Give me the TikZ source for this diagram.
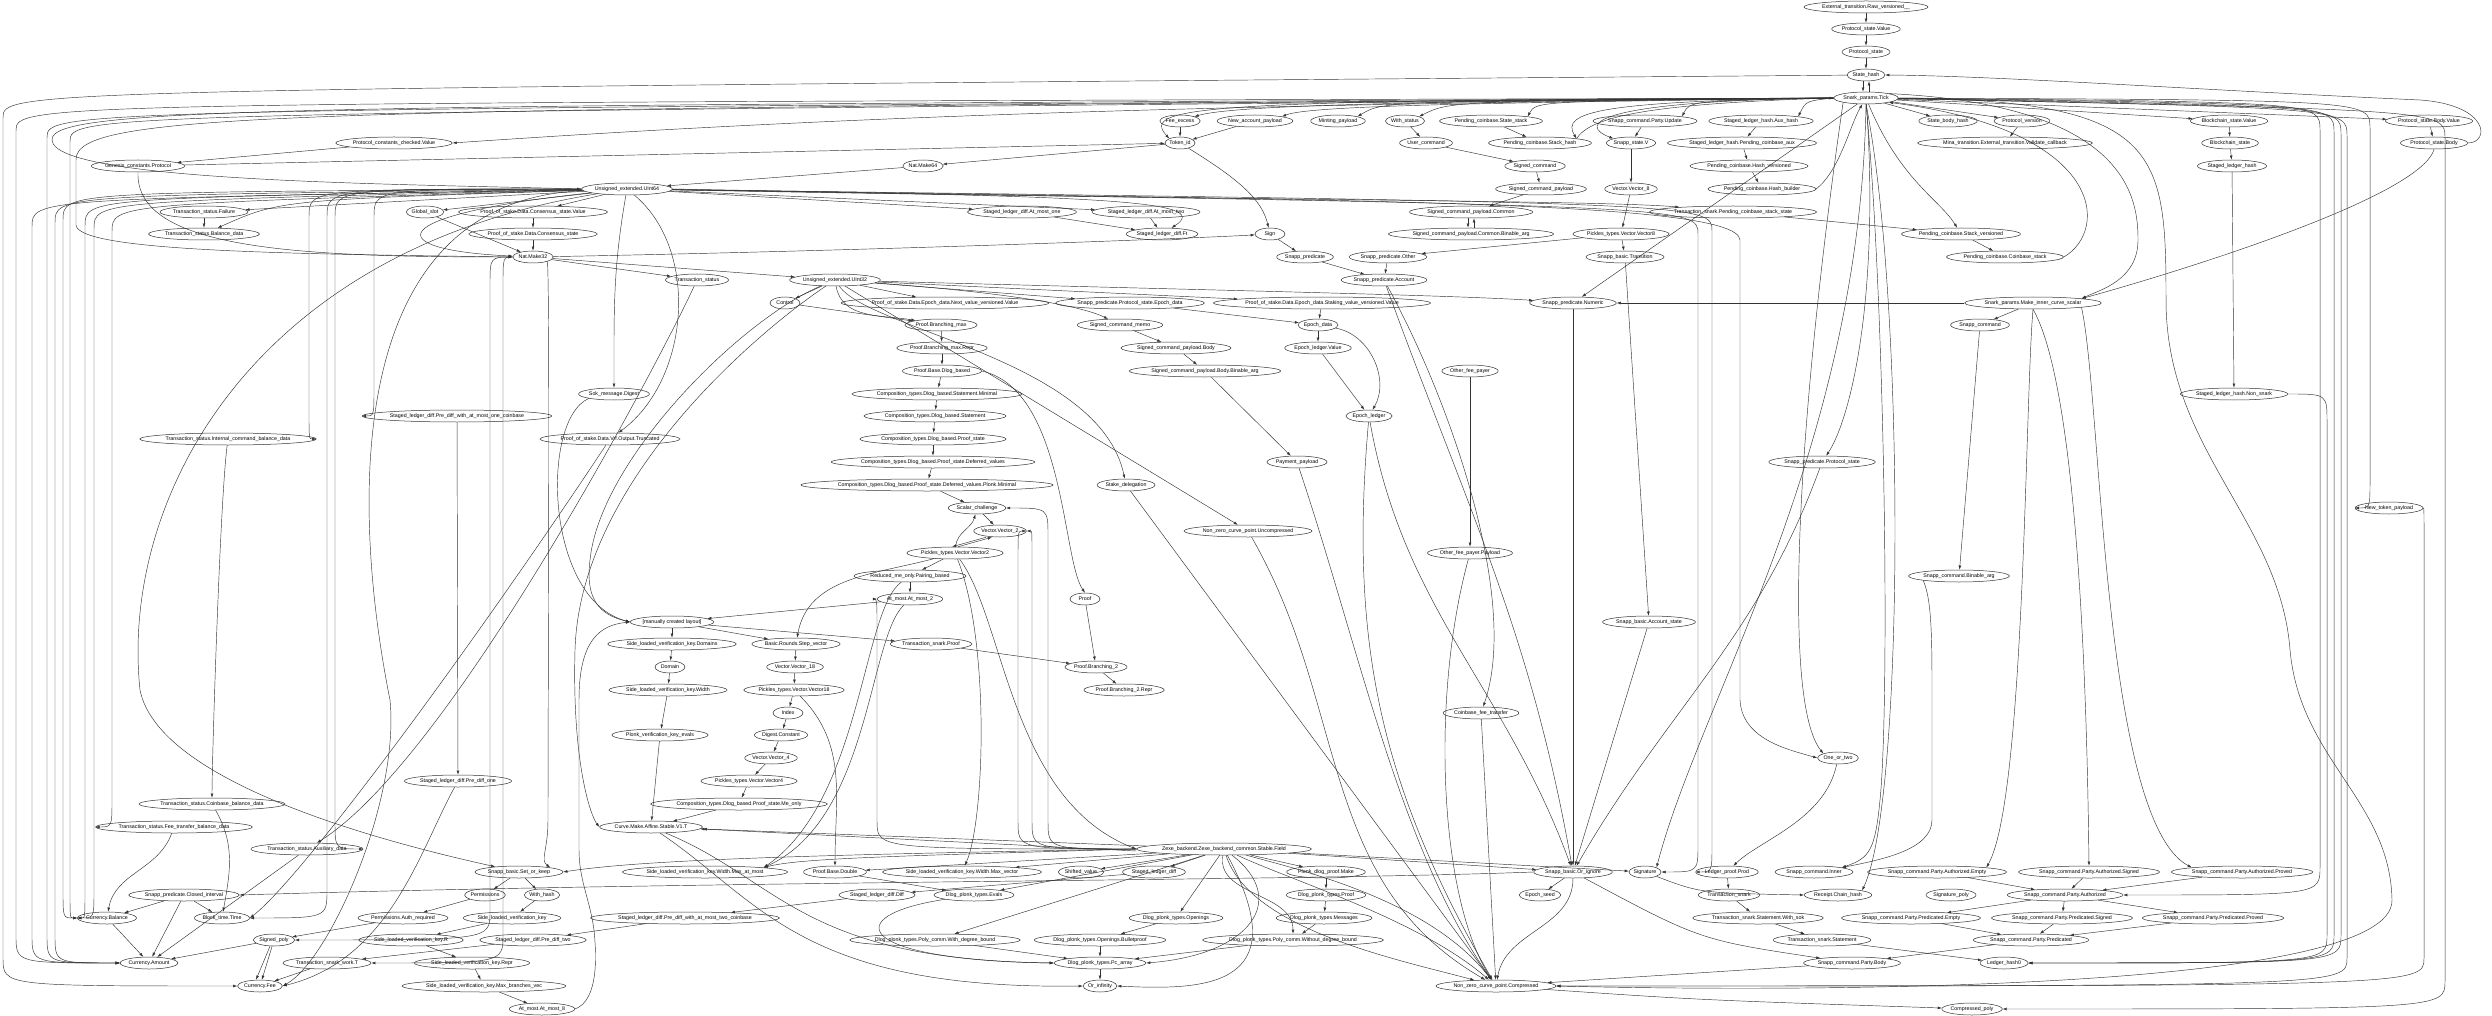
\documentclass[tikz,border=0pt]{standalone}
\usepackage{fontspec}
\setmainfont{Liberation Sans}
\usetikzlibrary{shapes.geometric, arrows.meta, calc}
\tikzset{
  modnode/.style={ellipse, draw=black!80, line width=0.5pt, inner xsep=0pt, inner ysep=0pt,
                  minimum height=12pt, minimum width=30pt, font=\fontsize{5.3}{6}\selectfont},
  dep/.style={-{Latex[length=4.2pt,width=2.8pt]}, line width=0.45pt, draw=black!80},
}
% edge that runs to a vertical lane at x=#4, then down (or up) to its target
\newcommand{\lanedep}[4][0]{%
  \draw[dep] let \p1=(#2), \p2=(#3), \n1={(\y2>\y1)?1:-1} in
    (#2) .. controls (#4pt,{\y1-(#1pt)}) .. (#4pt,{\y1-(#1pt)+(\n1)*28pt})
    -- (#4pt,{\y2-(\n1)*28pt}) .. controls (#4pt,\y2) .. (#3);}

\begin{document}
\begin{tikzpicture}[x=1pt, y=-1pt]

\fill[white] (0,0) rectangle (2492,1016);
\useasboundingbox (0,0) rectangle (2492,1016);

% ── modules, row by row ───────────────────────────────────────────────────────
\node[modnode] (ext)   at (1866,7)   {External\_transition.Raw\_versioned\_\_};
\node[modnode] (psv)   at (1866,29)  {Protocol\_state.Value};
\node[modnode] (ps)    at (1866,52)  {Protocol\_state};
\node[modnode] (sh)    at (1866,75)  {State\_hash};
\node[modnode] (tick)  at (1866,98)  {Snark\_params.Tick};

\node[modnode] (fee)   at (1180,121) {Fee\_excess};
\node[modnode] (nap)   at (1255,121) {New\_account\_payload};
\node[modnode] (mint)  at (1338,121) {Minting\_payload};
\node[modnode] (wst)   at (1405,121) {With\_status};
\node[modnode] (pcss)  at (1491,121) {Pending\_coinbase.State\_stack};
\node[modnode] (scpu)  at (1645,121) {Snapp\_command.Party.Update};
\node[modnode] (slhah) at (1761,121) {Staged\_ledger\_hash.Aux\_hash};
\node[modnode] (sbh)   at (1948,121) {State\_body\_hash};
\node[modnode] (pver)  at (2022,121) {Protocol\_version};
\node[modnode] (bsv)   at (2229,121) {Blockchain\_state.Value};
\node[modnode] (psbv)  at (2429,121) {Protocol\_state.Body.Value};

\node[modnode] (pccv)  at (394,143)  {Protocol\_constants\_checked.Value};
\node[modnode] (tok)   at (1180,143) {Token\_id};
\node[modnode] (ucmd)  at (1426,143) {User\_command};
\node[modnode] (pcsh)  at (1540,143) {Pending\_coinbase.Stack\_hash};
\node[modnode] (ssv)   at (1631,143) {Snapp\_state.V};
\node[modnode] (slhpca) at (1742,143) {Staged\_ledger\_hash.Pending\_coinbase\_aux};
\node[modnode] (mtv)   at (2005,143) {Mina\_transition.External\_transition.Validate\_callback};
\node[modnode] (bs)    at (2230,143) {Blockchain\_state};
\node[modnode] (psb)   at (2434,143) {Protocol\_state.Body};

\node[modnode] (gcp)   at (138,166)  {Genesis\_constants.Protocol};
\node[modnode] (nm64)  at (923,166)  {Nat.Make64};
\node[modnode] (scmd)  at (1535,166) {Signed\_command};
\node[modnode] (pchv)  at (1749,166) {Pending\_coinbase.Hash\_versioned};
\node[modnode] (slh)   at (2232,166) {Staged\_ledger\_hash};

\node[modnode] (u64)   at (627,189)  {Unsigned\_extended.UInt64};
\node[modnode] (scp)   at (1541,189) {Signed\_command\_payload};
\node[modnode] (v8)    at (1631,189) {Vector.Vector\_8};
\node[modnode] (pchb)  at (1762,189) {Pending\_coinbase.Hash\_builder};

\node[modnode] (tsf)   at (204,212)  {Transaction\_status.Failure};
\node[modnode] (gslot) at (425,212)  {Global\_slot};
\node[modnode] (pcsv)  at (533,212)  {Proof\_of\_stake.Data.Consensus\_state.Value};
\node[modnode] (amo1)  at (1022,212) {Staged\_ledger\_diff.At\_most\_one};
\node[modnode] (amo2)  at (1146,212) {Staged\_ledger\_diff.At\_most\_two};
\node[modnode] (scpc)  at (1471,212) {Signed\_command\_payload.Common};
\node[modnode] (tspcss) at (1733,212) {Transaction\_snark.Pending\_coinbase\_stack\_state};

\node[modnode] (tsbd)  at (204,234)  {Transaction\_status.Balance\_data};
\node[modnode] (pcs)   at (533,234)  {Proof\_of\_stake.Data.Consensus\_state};
\node[modnode] (sldft) at (1162,234) {Staged\_ledger\_diff.Ft};
\node[modnode] (sign)  at (1270,234) {Sign};
\node[modnode] (scpcb) at (1471,234) {Signed\_command\_payload.Common.Binable\_arg};
\node[modnode] (pv8)   at (1621,234) {Pickles\_types.Vector.Vector8};
\node[modnode] (pcsv2) at (1961,234) {Pending\_coinbase.Stack\_versioned};

\node[modnode] (nm32)  at (533,257)  {Nat.Make32};
\node[modnode] (spred) at (1305,257) {Snapp\_predicate};
\node[modnode] (spo)   at (1388,257) {Snapp\_predicate.Other};
\node[modnode] (sbt)   at (1625,257) {Snapp\_basic.Transition};
\node[modnode] (pccs)  at (2005,257) {Pending\_coinbase.Coinbase\_stack};

\node[modnode] (tst)   at (697,280)  {Transaction\_status};
\node[modnode] (u32)   at (835,280)  {Unsigned\_extended.UInt32};
\node[modnode] (spa)   at (1384,280) {Snapp\_predicate.Account};

\node[modnode] (ctrl)  at (785,303)  {Control};
\node[modnode] (nextv) at (945,303)  {Proof\_of\_stake.Data.Epoch\_data.Next\_value\_versioned.Value};
\node[modnode] (sppsed) at (1130,303) {Snapp\_predicate.Protocol\_state.Epoch\_data};
\node[modnode] (stakv) at (1322,303) {Proof\_of\_stake.Data.Epoch\_data.Staking\_value\_versioned.Value};
\node[modnode] (spn)   at (1573,303) {Snapp\_predicate.Numeric};
\node[modnode] (snmics) at (2033,303) {Snark\_params.Make\_inner\_curve\_scalar};

\node[modnode] (pbm)   at (941,325)  {Proof.Branching\_max};
\node[modnode] (scm)   at (1120,325) {Signed\_command\_memo};
\node[modnode] (epd)   at (1318,325) {Epoch\_data};
\node[modnode] (scmdn) at (1980,325) {Snapp\_command};

\node[modnode] (pbmr)  at (942,348)  {Proof.Branching\_max.Repr};
\node[modnode] (scpb)  at (1176,348) {Signed\_command\_payload.Body};
\node[modnode] (elv)   at (1318,348) {Epoch\_ledger.Value};

\node[modnode] (pbdb)  at (942,371)  {Proof.Base.Dlog\_based};
\node[modnode] (scpbb) at (1205,371) {Signed\_command\_payload.Body.Binable\_arg};
\node[modnode] (ofp)   at (1470,371) {Other\_fee\_payer};

\node[modnode] (sokd)  at (614,394)  {Sok\_message.Digest};
\node[modnode] (ctsm)  at (937,394)  {Composition\_types.Dlog\_based.Statement.Minimal};
\node[modnode] (slhns) at (2234,394) {Staged\_ledger\_hash.Non\_snark};

\node[modnode] (slpd1) at (457,416)  {Staged\_ledger\_diff.Pre\_diff\_with\_at\_most\_one\_coinbase};
\node[modnode] (cts)   at (935,416)  {Composition\_types.Dlog\_based.Statement};
\node[modnode] (el)    at (1369,416) {Epoch\_ledger};

\node[modnode] (tsicbd) at (228,439) {Transaction\_status.Internal\_command\_balance\_data};
\node[modnode] (vrf)   at (610,439)  {Proof\_of\_stake.Data.Vrf.Output.Truncated};
\node[modnode] (ctps)  at (933,439)  {Composition\_types.Dlog\_based.Proof\_state};

\node[modnode] (ctdv)  at (933,462)  {Composition\_types.Dlog\_based.Proof\_state.Deferred\_values};
\node[modnode] (pay)   at (1297,462) {Payment\_payload};
\node[modnode] (spps)  at (1822,462) {Snapp\_predicate.Protocol\_state};

\node[modnode] (ctpm)  at (927,485)  {Composition\_types.Dlog\_based.Proof\_state.Deferred\_values.Plonk.Minimal};
\node[modnode] (sdel)  at (1126,485) {Stake\_delegation};

\node[modnode] (sch)   at (977,508)  {Scalar\_challenge};
\node[modnode] (ntp)   at (2389,508) {New\_token\_payload};

\node[modnode] (v2)    at (1000,531) {Vector.Vector\_2};
\node[modnode] (nzcu)  at (1248,531) {Non\_zero\_curve\_point.Uncompressed};

\node[modnode] (pv2)   at (955,553)  {Pickles\_types.Vector.Vector2};
\node[modnode] (ofpp)  at (1470,553) {Other\_fee\_payer.Payload};

\node[modnode] (rmo)   at (910,576)  {Reduced\_me\_only.Pairing\_based};
\node[modnode] (scba)  at (1959,576) {Snapp\_command.Binable\_arg};

\node[modnode] (am2)   at (910,599)  {At\_most.At\_most\_2};
\node[modnode] (proof) at (1085,599) {Proof};

\node[modnode] (mcl)   at (672,622)  {[manually created layout]};
\node[modnode] (sbas)  at (1649,622) {Snapp\_basic.Account\_state};

\node[modnode] (slvkd) at (672,644)  {Side\_loaded\_verification\_key.Domains};
\node[modnode] (brsv)  at (796,644)  {Basic.Rounds.Step\_vector};
\node[modnode] (tsp)   at (931,644)  {Transaction\_snark.Proof};

\node[modnode] (dom)   at (670,667)  {Domain};
\node[modnode] (v18)   at (795,667)  {Vector.Vector\_18};
\node[modnode] (pb2)   at (1096,667) {Proof.Branching\_2};

\node[modnode] (slvkw) at (668,690)  {Side\_loaded\_verification\_key.Width};
\node[modnode] (pv18)  at (794,690)  {Pickles\_types.Vector.Vector18};
\node[modnode] (pb2r)  at (1124,690) {Proof.Branching\_2.Repr};

\node[modnode] (idx)   at (788,713)  {Index};
\node[modnode] (cft)   at (1481,713) {Coinbase\_fee\_transfer};

\node[modnode] (pvke)  at (660,735)  {Plonk\_verification\_key\_evals};
\node[modnode] (dc)    at (781,735)  {Digest.Constant};

\node[modnode] (v4)    at (771,758)  {Vector.Vector\_4};
\node[modnode] (oot)   at (1838,758) {One\_or\_two};

\node[modnode] (spd1)  at (458,781)  {Staged\_ledger\_diff.Pre\_diff\_one};
\node[modnode] (pv4)   at (749,781)  {Pickles\_types.Vector.Vector4};

\node[modnode] (tscbd) at (212,804)  {Transaction\_status.Coinbase\_balance\_data};
\node[modnode] (ctmo)  at (739,804)  {Composition\_types.Dlog\_based.Proof\_state.Me\_only};

\node[modnode] (tsftbd) at (174,827) {Transaction\_status.Fee\_transfer\_balance\_data};
\node[modnode] (cmas)  at (651,827)  {Curve.Make.Affine.Stable.V1.T};

\node[modnode] (tsad)  at (307,849)  {Transaction\_status.Auxiliary\_data};
\node[modnode] (zexe)  at (1224,849) {Zexe\_backend.Zexe\_backend\_common.Stable.Field};

\node[modnode] (sbsk)  at (519,872)  {Snapp\_basic.Set\_or\_keep};
\node[modnode] (slvkwma) at (705,872) {Side\_loaded\_verification\_key.Width.Max\_at\_most};
\node[modnode] (pbd)   at (835,872)  {Proof.Base.Double};
\node[modnode] (slvkwmv) at (962,872) {Side\_loaded\_verification\_key.Width.Max\_vector};
\node[modnode] (shv)   at (1081,872) {Shifted\_value};
\node[modnode] (sld)   at (1154,872) {Staged\_ledger\_diff};
\node[modnode] (pdpm)  at (1326,872) {Plonk\_dlog\_proof.Make};
\node[modnode] (sboi)  at (1573,872) {Snapp\_basic.Or\_ignore};
\node[modnode] (sig)   at (1645,872) {Signature};
\node[modnode] (lpp)   at (1727,872) {Ledger\_proof.Prod};
\node[modnode] (sci)   at (1814,872) {Snapp\_command.Inner};
\node[modnode] (scpae) at (1937,872) {Snapp\_command.Party.Authorized.Empty};
\node[modnode] (scpas) at (2089,872) {Snapp\_command.Party.Authorized.Signed};
\node[modnode] (scpap) at (2242,872) {Snapp\_command.Party.Authorized.Proved};

\node[modnode] (spci)  at (184,895)  {Snapp\_predicate.Closed\_interval};
\node[modnode] (perm)  at (485,895)  {Permissions};
\node[modnode] (wh)    at (542,895)  {With\_hash};
\node[modnode] (sldd)  at (877,895)  {Staged\_ledger\_diff.Diff};
\node[modnode] (dpe)   at (974,895)  {Dlog\_plonk\_types.Evals};
\node[modnode] (dpp)   at (1326,895) {Dlog\_plonk\_types.Proof};
\node[modnode] (eps)   at (1540,895) {Epoch\_seed};
\node[modnode] (tsn)   at (1729,895) {Transaction\_snark};
\node[modnode] (rch)   at (1838,895) {Receipt.Chain\_hash};
\node[modnode] (sigp)  at (1951,895) {Signature\_poly};
\node[modnode] (scpa)  at (2065,895) {Snapp\_command.Party.Authorized};

\node[modnode] (cbal)  at (107,918)  {Currency.Balance};
\node[modnode] (btt)   at (222,918)  {Block\_time.Time};
\node[modnode] (par)   at (403,918)  {Permissions.Auth\_required};
\node[modnode] (slvk)  at (512,918)  {Side\_loaded\_verification\_key};
\node[modnode] (spd2c) at (685,918)  {Staged\_ledger\_diff.Pre\_diff\_with\_at\_most\_two\_coinbase};
\node[modnode] (dpo)   at (1176,918) {Dlog\_plonk\_types.Openings};
\node[modnode] (dpm)   at (1324,918) {Dlog\_plonk\_types.Messages};
\node[modnode] (tsssw) at (1758,918) {Transaction\_snark.Statement.With\_sok};
\node[modnode] (scppe) at (1911,918) {Snapp\_command.Party.Predicated.Empty};
\node[modnode] (scpps) at (2062,918) {Snapp\_command.Party.Predicated.Signed};
\node[modnode] (scppp) at (2213,918) {Snapp\_command.Party.Predicated.Proved};

\node[modnode] (spoly) at (274,940)  {Signed\_poly};
\node[modnode] (slvkr) at (411,940)  {Side\_loaded\_verification\_key.R};
\node[modnode] (spd2)  at (533,940)  {Staged\_ledger\_diff.Pre\_diff\_two};
\node[modnode] (dppw)  at (935,940)  {Dlog\_plonk\_types.Poly\_comm.With\_degree\_bound};
\node[modnode] (dpob)  at (1100,940) {Dlog\_plonk\_types.Openings.Bulletproof};
\node[modnode] (dppwo) at (1293,940) {Dlog\_plonk\_types.Poly\_comm.Without\_degree\_bound};
\node[modnode] (tss)   at (1822,940) {Transaction\_snark.Statement};
\node[modnode] (scpp)  at (2031,940) {Snapp\_command.Party.Predicated};

\node[modnode] (camt)  at (149,963)  {Currency.Amount};
\node[modnode] (tswt)  at (327,963)  {Transaction\_snark\_work.T};
\node[modnode] (slvkrp) at (472,963) {Side\_loaded\_verification\_key.Repr};
\node[modnode] (dppa)  at (1100,963) {Dlog\_plonk\_types.Pc\_array};
\node[modnode] (scpbody) at (1852,963) {Snapp\_command.Party.Body};
\node[modnode] (lh0)   at (2004,963) {Ledger\_hash0};

\node[modnode] (cfee)  at (260,986)  {Currency.Fee};
\node[modnode] (slvkmbv) at (484,986) {Side\_loaded\_verification\_key.Max\_branches\_vec};
\node[modnode] (oinf)  at (1100,986) {Or\_infinity};
\node[modnode] (nzcc)  at (1496,986) {Non\_zero\_curve\_point.Compressed};

\node[modnode] (am8)   at (542,1009) {At\_most.At\_most\_8};
\node[modnode] (cpoly) at (1972,1009) {Compressed\_poly};

% ── top chain and Tick hub ───────────────────────────────────────────────────
\draw[dep] (ext) -- (psv);
\draw[dep] (psv) -- (ps);
\draw[dep] (ps) -- (sh);
\draw[dep] ([xshift=-3pt]sh.south) -- ([xshift=-3pt]tick.north);
\draw[dep] ([xshift=3pt]tick.north) -- ([xshift=3pt]sh.south);
\draw[dep] (psb.east) .. controls (2490,143) and (2490,105) .. (2420,100)
  .. controls (2200,90) and (2000,76) .. (sh.east);
\draw[dep] (psb.south) .. controls (2420,200) and (2150,280) .. (snmics.north east);

\foreach \t in {mint,wst,pcss,scpu,slhah}
  \draw[dep] let \p1=(\t) in (tick.west) .. controls ({\x1+45pt},-101pt) .. (\t.north east);
\draw[dep] (tick.west) .. controls (1500,101) and (1240,103) .. (fee.north east);
\draw[dep] (tick.west) .. controls (1500,103) and (1310,105) .. (nap.north east);
\foreach \t in {sbh,pver,bsv,psbv}
  \draw[dep] (tick) -- (\t);
\draw[dep] (tick.west) .. controls (1300,104) and (900,112) .. (pccv.east);
\draw[dep] (tick.west) .. controls (1200,100) and (1140,106) .. (tok.north west);
\draw[dep] (tick) -- (spn);
\draw[dep] (tick) .. controls (1900,180) and (1940,200) .. (pcsv2);
\draw[dep] (pccs.east) .. controls (2110,230) and (2105,130) .. (tick.south east);
\draw[dep] (tick.west) .. controls (1600,101) and (1560,112) .. (pcsh.north east);
\draw[dep] (pcsh.north east) .. controls (1590,118) and (1640,104) .. (tick.west);
\draw[dep] (tick.west) .. controls (1590,101) and (1578,125) .. (ssv.north west);
\draw[dep] (pchb.east) .. controls (1840,170) and (1850,125) .. (tick);
\draw[dep] (tick) .. controls (1880,300) and (1850,420) .. (spps);
\draw[dep] (tick.north east) .. controls (2130,105) and (2138,200) .. (2138,240)
  .. controls (2138,280) and (2100,290) .. (snmics.north east);
\draw[dep] (tick.east) .. controls (2160,100) and (2166,150) .. (2166,300)
  .. controls (2166,450) and (2280,520) .. (2290,650)
  .. controls (2300,760) and (2390,800) .. (2392,900)
  .. controls (2394,992) and (1800,992) .. (nzcc.east);
\draw[dep] (tick.south) .. controls (1885,300) and (1890,700) .. (1880,800)
  .. controls (1875,850) and (1870,858) .. (sci.north east);
\draw[dep] (tick.south) .. controls (1905,300) and (1905,800) .. (rch.north east);
\draw[dep] (tick.south west) .. controls (1800,400) and (1780,700) .. (oot.north west);
\draw[dep] (tick.south) .. controls (1860,450) and (1700,700) .. (sig.north east);

% ── short chains in the upper half ───────────────────────────────────────────
\draw[dep] (fee) -- (tok);
\draw[dep] (nap) -- (tok);
\draw[dep] (tok) -- (nm64);
\draw[dep] (nm64) -- (u64);
\draw[dep] (gcp) -- (tok);
\draw[dep] (pccv) -- (gcp);
\draw[dep] (wst) -- (ucmd);
\draw[dep] (ucmd) -- (scmd);
\draw[dep] (scmd) -- (scp);
\draw[dep] (scp) -- (scpc);
\draw[dep] ([xshift=-3pt]scpc.south) -- ([xshift=-3pt]scpcb.north);
\draw[dep] ([xshift=3pt]scpcb.north) -- ([xshift=3pt]scpc.south);
\draw[dep] (pcss) -- (pcsh);
\draw[dep] (scpu) -- (ssv);
\draw[dep] (ssv) -- (v8);
\draw[dep] (v8) -- (pv8);
\draw[dep] (pv8) -- (sbt);
\draw[dep] (pv8) -- (spo);
\draw[dep] (slhah) -- (slhpca);
\draw[dep] (slhpca) -- (pchv);
\draw[dep] (pchv) -- (pchb);
\draw[dep] (pver) -- (mtv);
\draw[dep] (bsv) -- (bs);
\draw[dep] (bs) -- (slh);
\draw[dep] (slh) -- (slhns);
\draw[dep] (psbv) -- (psb);
\draw[dep] (pcsv2) -- (pccs);
\draw[dep] (tspcss) -- (pcsv2);
\draw[dep] (sign) -- (spred);
\draw[dep] (spred) -- (spa);
\draw[dep] (spo) -- (spa);
\draw[dep] (tok) .. controls (1240,180) and (1262,200) .. (sign);

% ── UInt64 / Nat.Make32 ──────────────────────────────────────────────────────
\draw[dep] (gcp.south) .. controls (135,250) and (300,257) .. (nm32.west);
\draw[dep] (tick.west) .. controls (300,110) and (75,110) .. (76,160) -- (76,225)
  .. controls (78,252) and (300,254) .. (nm32.west);
\draw[dep] (tick.west) .. controls (300,106) and (50,106) .. (52,140)
  .. controls (54,182) and (400,184) .. (u64.west);
\draw[dep] (u64) -- (tsf);
\draw[dep] (u64) .. controls (280,200) .. (tsbd);
\draw[dep] (u64) -- (gslot);
\draw[dep] (u64) -- (pcsv);
\draw[dep] (u64) .. controls (380,215) and (380,250) .. (nm32);
\draw[dep] (tsf) -- (tsbd);
\draw[dep] (pcsv) -- (pcs);
\draw[dep] (pcs) -- (nm32);
\draw[dep] (gslot) -- (nm32);
\draw[dep] (u64) -- (amo1);
\draw[dep] (u64) -- (amo2);
\draw[dep] (amo1) -- (sldft);
\draw[dep] (amo2) -- (sldft);
\draw[dep] (u64) .. controls (1100,196) and (1215,200) .. (sldft);
\draw[dep] (u64) .. controls (1200,200) and (1600,200) .. (tspcss);
\draw[dep] (nm32) -- (u32);
\draw[dep] (nm32) -- (tst);
\draw[dep] (nm32) .. controls (900,250) and (1200,238) .. (sign);
\lanedep[14]{u64}{lpp}{1712}
\lanedep[17]{u64}{sig}{1698}
\draw[dep] (u64.east) .. controls (1300,201) and (1738,198) .. (1740,240) -- (1740,700)
  .. controls (1742,740) and (1790,750) .. (oot.west);

% ── UInt32 and the proof column ──────────────────────────────────────────────
\foreach \t in {ctrl,nextv,sppsed,stakv}
  \draw[dep] (u32) -- (\t);
\draw[dep] (u32) to[out=-80,in=170] (pbm);
\draw[dep] (u32) .. controls (1000,292) and (1080,305) .. (scm);
\draw[dep] (u32) .. controls (870,330) and (1100,360) .. (sdel);
\draw[dep] (u32) -- (nzcu);
\draw[dep] (u32) .. controls (1200,290) and (1450,295) .. (spn);
\draw[dep] (ctrl) -- (pbm);
\draw[dep] (scm) -- (scpb);
\draw[dep] (scpb) -- (scpbb);
\draw[dep] (scpbb) -- (pay);
\draw[dep] (pbm) -- (pbmr);
\draw[dep] (pbmr) -- (pbdb);
\draw[dep] (pbdb) -- (ctsm);
\draw[dep] (ctsm) -- (cts);
\draw[dep] (cts) -- (ctps);
\draw[dep] (ctps) -- (ctdv);
\draw[dep] (ctdv) -- (ctpm);
\draw[dep] (ctpm) -- (sch);
\draw[dep] (sch) -- (v2);
\draw[dep] ([xshift=-14pt]v2.south) -- ([xshift=-3pt]pv2.north);
\draw[dep] ([xshift=3pt]pv2.north) -- ([xshift=-8pt]v2.south);
\draw[dep] (pv2) to[out=85,in=-105] (sch);
\draw[dep] (pv2) -- (rmo);
\draw[dep] (rmo) -- (am2);
\draw[dep] (pv2) to[out=195,in=80] (brsv);
\draw[dep] (am2) -- (mcl);
\draw[dep] (mcl) -- (slvkd);
\draw[dep] (mcl) -- (brsv);
\draw[dep] (mcl) -- (tsp);
\draw[dep] (slvkd) -- (dom);
\draw[dep] (brsv) -- (v18);
\draw[dep] (pbdb.east) .. controls (1065,390) and (1062,560) .. (proof.north);
\draw[dep] (proof) -- (pb2);
\draw[dep] (tsp) -- (pb2);
\draw[dep] (pb2) -- (pb2r);
\draw[dep] (v18) -- (pv18);
\draw[dep] (pv18) -- (idx);
\draw[dep] (idx) -- (dc);
\draw[dep] (dc) -- (v4);
\draw[dep] (v4) -- (pv4);
\draw[dep] (pv4) -- (ctmo);
\draw[dep] (ctmo) -- (cmas);
\draw[dep] (pvke) -- (cmas);
\draw[dep] (slvkw) -- (pvke);
\draw[dep] (dom) -- (slvkw);
\draw[dep] (pv18) to[out=-45,in=90] (pbd);
\draw[dep] (u32) .. controls (740,320) and (600,460) .. (590,560)
  .. controls (585,600) and (600,615) .. (mcl.west);
\draw[dep] (u32) .. controls (760,330) and (580,480) .. (575,650)
  .. controls (572,760) and (590,815) .. (cmas.west);

% ── Zexe field hub ───────────────────────────────────────────────────────────
\draw[dep] (zexe) -- (cmas);
\draw[dep] ([yshift=-2pt]zexe.west) -- ([yshift=-2pt]cmas.east);
\lanedep{zexe}{sch}{1048}
\lanedep{zexe}{v2}{1032}
\lanedep{zexe}{v2}{1018}
\lanedep{zexe}{am2}{877}
\draw[dep] (pv2) .. controls (1005,620) and (1010,800) .. (zexe.west);
\foreach \t in {pbd,slvkwmv,shv,sld,dpe,dpo,dppw,pdpm,sboi,sig}
  \draw[dep] (zexe) -- (\t);
\draw[dep] (zexe.west) .. controls (900,856) and (800,858) .. (slvkwma.north east);
\draw[dep] (zexe.west) .. controls (800,855) and (640,860) .. (sbsk.east);
\draw[dep] (zexe) .. controls (1290,900) and (1250,955) .. (dppa.east);
\draw[dep] (zexe) .. controls (1300,990) and (1200,990) .. (oinf.east);
\draw[dep] (zexe) to[out=-100,in=90] (dppwo);
\draw[dep] (zexe) .. controls (1290,880) and (1420,920) .. (nzcc);
\draw[dep] (zexe) .. controls (1300,870) and (1430,900) .. (nzcc);
\draw[dep] (zexe) .. controls (1250,930) and (1400,960) .. (nzcc);
\draw[dep] (rmo) .. controls (862,610) and (862,800) .. (slvkwma.north east);
\draw[dep] (am2) .. controls (868,640) and (870,820) .. (slvkwma.north east);
\draw[dep] (pv2) .. controls (990,640) and (985,820) .. (slvkwmv);
\draw[dep] (pbd) -- (dpe);
\draw[dep] (sld) -- (sldd);
\draw[dep] (sldd) -- (spd2c);
\draw[dep] (spd2c) -- (spd2);
\draw[dep] (dpe) .. controls (840,915) and (850,960) .. (dppa.west);
\draw[dep] (dppw) -- (dppa);
\draw[dep] (dpob) -- (dppa);
\draw[dep] (dpo) -- (dpob);
\draw[dep] (pdpm) -- (dpp);
\draw[dep] (dpp) -- (dpm);
\draw[dep] (dpm) -- (dppwo);
\draw[dep] (dppwo) -- (dppa);
\draw[dep] (dppa) -- (oinf);
\draw[dep] (cmas) .. controls (780,880) and (800,960) .. (dppa.west);
\draw[dep] (cmas) .. controls (760,900) and (800,990) .. (oinf.west);

% ── lower left: currency, status, side-loaded keys ───────────────────────────
\draw[dep] (u64) to[out=-100,in=90] (sokd);
\lanedep{u64}{slpd1}{374}
\lanedep{u64}{tsicbd}{309}
\draw[dep] (u64) .. controls (700,250) and (690,380) .. (vrf);
\draw[dep] (tsicbd) .. controls (220,500) and (212,760) .. (tscbd);
\draw[dep] (slpd1) -- (spd1);
\draw[dep] (spd1) .. controls (420,850) and (390,960) .. (cfee.east);
\draw[dep] (spd2) -- (tswt);
\draw[dep] (tswt) -- (cfee);
\draw[dep] (spoly) -- (cfee);
\draw[dep] ([xshift=-4pt]spoly.south) -- ([xshift=-4pt]cfee.north);
\draw[dep] (spoly) -- (camt);
\draw[dep] (par) -- (spoly);
\draw[dep] (perm) -- (par);
\draw[dep] (sbsk) -- (perm);
\draw[dep] (sbsk) -- (wh);
\draw[dep] (wh) -- (slvk);
\draw[dep] (slvk) -- (slvkr);
\draw[dep] (slvkr) -- (slvkrp);
\draw[dep] (slvkrp) -- (slvkmbv);
\draw[dep] (slvkmbv) -- (am8);
\draw[dep] (am8.east) .. controls (600,1000) and (596,950) .. (594,930)
  .. controls (590,900) and (579,880) .. (579,850) -- (579,700)
  .. controls (579,640) and (600,625) .. (mcl.west);
\draw[dep] (u64) .. controls (250,250) and (120,500) .. (140,690)
  .. controls (160,790) and (420,850) .. (sbsk);
\draw[dep] (nm32.south east) .. controls (550,300) and (548,700) .. (548,820)
  .. controls (548,850) and (540,860) .. (sbsk.north east);
\draw[dep] (sboi.west) .. controls (1300,881) and (700,881) .. (spci.east);
\draw[dep] (spci) -- (cbal);
\draw[dep] (spci) -- (btt);
\draw[dep] (spci) -- (camt);
\draw[dep] (cbal) -- (camt);
\draw[dep] (tsftbd) to[out=-110,in=80] (cbal);
\draw[dep] (tscbd) to[out=-60,in=80] (btt);
\draw[dep] (tsad) -- (camt);
\draw[dep] (tst) .. controls (660,360) and (450,760) .. (tsad);
\lanedep[15]{sh}{cfee}{3}
\lanedep[5]{tick}{camt}{16}
\lanedep[10]{u64}{camt}{32}
\lanedep[12]{tick}{camt}{47}
\lanedep[6]{u64}{camt}{55}
\lanedep[3]{u64}{cbal}{63}
\lanedep[16]{tick}{cbal}{70}
\lanedep[9]{u64}{cbal}{85}
\lanedep[12]{u64}{cbal}{94}
\lanedep[15]{u64}{tsftbd}{112}
\lanedep{u64}{btt}{327}
\lanedep{u64}{tsad}{335}
\draw[dep] (u64) .. controls (345,200) and (350,500) .. (390,700)
  .. controls (400,800) and (330,960) .. (cfee.east);
\lanedep{nm32}{spoly}{490}
\lanedep{nm32}{tswt}{503}
\draw[dep] (vrf) .. controls (470,650) and (300,880) .. (btt.east);
\draw[dep] (sokd.south west) .. controls (540,420) and (545,600) .. (mcl.west);

% ── middle right: predicates, epoch data, Non_zero_curve_point ───────────────
\draw[dep] (stakv) -- (epd);
\draw[dep] (sppsed) -- (epd);
\draw[dep] (epd) -- (elv);
\draw[dep] (elv) -- (el);
\draw[dep] (epd) to[out=-10,in=60] (el);
\draw[dep] (ofp) -- (ofpp);
\draw[dep] (sbt) -- (sbas);
\draw[dep] (spn) -- (sboi);
\draw[dep] (sbas) -- (sboi);
\draw[dep] (spps) to[out=-110,in=60] (sboi);
\draw[dep] (spa) to[out=-70,in=100] (sboi);
\draw[dep] (el) to[out=-80,in=110] (sboi);
\draw[dep] (el) to[out=-95,in=120] (nzcc);
\draw[dep] (spa) .. controls (1450,400) and (1520,600) .. (cft);
\draw[dep] (pay) .. controls (1360,650) and (1400,850) .. (nzcc);
\draw[dep] (ofpp) .. controls (1430,700) and (1440,900) .. (nzcc);
\draw[dep] (cft) -- (nzcc);
\draw[dep] (sdel) -- (nzcc);
\draw[dep] (nzcu) to[out=-60,in=150] (nzcc);
\draw[dep] (sboi) -- (eps);
\draw[dep] (sboi) to[out=-90,in=80] (nzcc);
\draw[dep] (sboi) .. controls (1700,940) .. (scpbody);
\draw[dep] (sig.south east) .. controls (1700,893) .. (rch.west);
\draw[dep] (oot) .. controls (1825,820) and (1760,840) .. (lpp);
\draw[dep] (lpp) -- (tsn);
\draw[dep] (tsn) -- (tsssw);
\draw[dep] (tsssw) -- (tss);
\draw[dep] (tss) -- (lh0);
\draw[dep] (scpp) -- (scpbody);
\draw[dep] (scpbody) -- (nzcc);
\draw[dep] (nzcc) .. controls (1700,1000) .. (cpoly);

% ── snapp commands ───────────────────────────────────────────────────────────
\draw[dep] (snmics) -- (scmdn);
\draw[dep] (snmics) -- (spn);
\draw[dep] (scmdn) -- (scba);
\draw[dep] (scba.south west) .. controls (1932,600) and (1932,640) .. (1932,700) -- (1932,820)
  .. controls (1932,850) and (1880,860) .. (sci.north east);
\draw[dep] (snmics.south) .. controls (2025,400) and (2025,800) .. (scpae.north east);
\draw[dep] (snmics.south) .. controls (2085,400) and (2088,800) .. (scpas.north);
\draw[dep] (snmics.south east) .. controls (2102,400) and (2102,820) .. (scpap.north west);
\draw[dep] (scpae) -- (scpa);
\draw[dep] (scpas) -- (scpa);
\draw[dep] (scpap) -- (scpa);
\draw[dep] (scpa) -- (scppe);
\draw[dep] (scpa) -- (scpps);
\draw[dep] (scpa) -- (scppp);
\draw[dep] (scppe) -- (scpp);
\draw[dep] (scpps) -- (scpp);
\draw[dep] (scppp) -- (scpp);

% ── right-hand lanes ─────────────────────────────────────────────────────────
\lanedep[4]{tick}{scpa}{2320}
\lanedep{slhns}{lh0}{2327}
\lanedep[6]{tick}{lh0}{2334}
\lanedep[8]{tick}{lh0}{2341}
\lanedep[10]{tick}{nzcc}{2347}
\lanedep[2]{tick}{ntp}{2370}
\lanedep{ntp}{nzcc}{2424}
\lanedep[12]{tick}{cpoly}{2445}

\end{tikzpicture}
\end{document}
